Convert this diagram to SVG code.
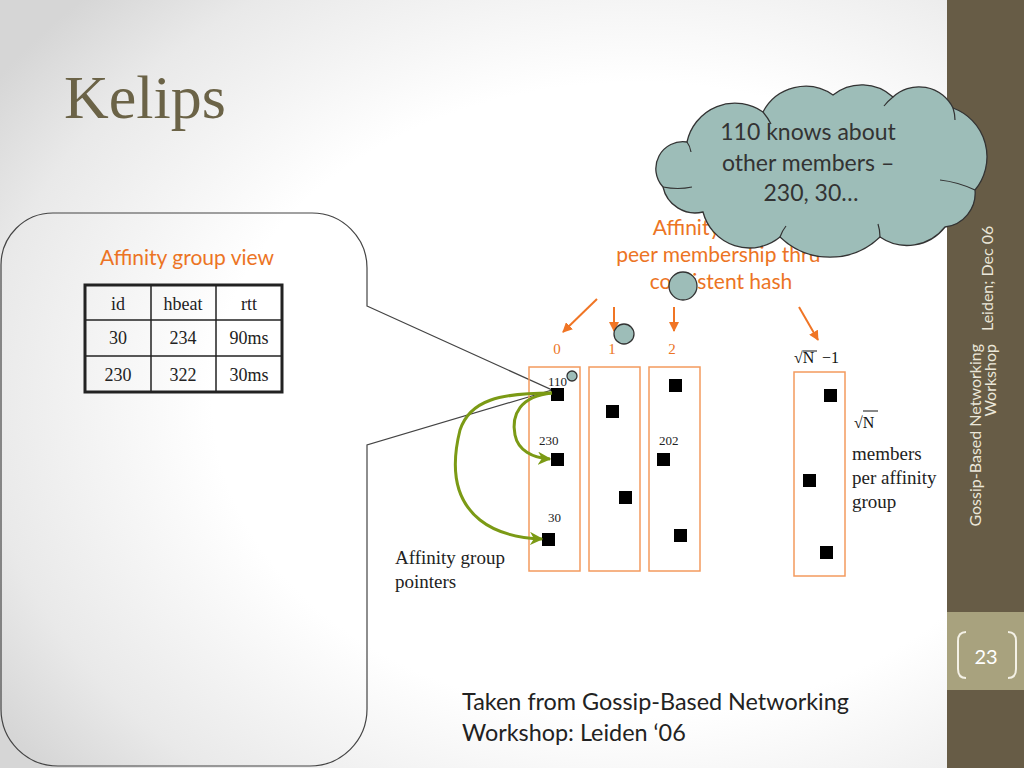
<svg xmlns="http://www.w3.org/2000/svg" width="1024" height="768" viewBox="0 0 1024 768">
<defs>
<radialGradient id="bg" cx="62%" cy="52%" r="75%">
<stop offset="0" stop-color="#ffffff"/>
<stop offset="0.55" stop-color="#ffffff"/>
<stop offset="0.85" stop-color="#e9e9e9"/>
<stop offset="1" stop-color="#d6d6d6"/>
</radialGradient>
<marker id="oarr" viewBox="0 0 10 10" refX="9" refY="5" markerWidth="5" markerHeight="5" orient="auto">
<path d="M0,0 L10,5 L0,10 z" fill="#f07525"/>
</marker>
<marker id="garr" viewBox="0 0 10 10" refX="9" refY="5" markerWidth="4.5" markerHeight="4.5" orient="auto">
<path d="M0,0 L10,5 L0,10 L3,5 z" fill="#7b9a15"/>
</marker>
</defs>
<style>
.sans{font-family:Lato,"Open Sans","Liberation Sans",sans-serif}
.serif{font-family:"Liberation Serif","DejaVu Serif",serif}
.orange{fill:#ec7424}
.col{fill:none;stroke:#f39a5e;stroke-width:1.5}
.sq{fill:#000}
.olink{stroke:#f07525;stroke-width:2;fill:none;marker-end:url(#oarr)}
.glink{stroke:#7b9a15;stroke-width:3;fill:none;marker-end:url(#garr)}
.tbl{fill:none;stroke:#222}
.cell{font-size:18px;fill:#222;text-anchor:middle}
.lbl{font-size:13px;fill:#222}
.bub{fill:#9dbdb8;stroke:#333;stroke-width:1.3}
.side{fill:#ebe7d9;font-size:16px}
</style>
<rect x="0" y="0" width="1024" height="768" fill="url(#bg)"/>

<g id="sidebar">
<rect x="947" y="0" width="77" height="768" fill="#675c46"/>
<rect x="947" y="612" width="77" height="78" fill="#a8a27e"/>
<text class="sans side" transform="translate(993,331) rotate(-90)">Leiden; Dec 06</text>
<text class="sans side" text-anchor="end" transform="translate(981,344) rotate(-90)">Gossip-Based Networking</text>
<text class="sans side" text-anchor="end" transform="translate(996,344) rotate(-90)">Workshop</text>
<path d="M966,632 Q958,632 958,641 L958,669 Q958,678 966,678" fill="none" stroke="#f4f1e6" stroke-width="2"/>
<path d="M1008,632 Q1016,632 1016,641 L1016,669 Q1016,678 1008,678" fill="none" stroke="#f4f1e6" stroke-width="2"/>
<text class="sans" x="986" y="664" font-size="20" fill="#ffffff" text-anchor="middle">23</text>
</g>

<text id="title" class="serif" x="64" y="118" font-size="62" fill="#6b6347">Kelips</text>

<g id="callout">
<path d="M367,306 L552,390 L367,445 L367,709 A57,57 0 0 1 310,766 L58,766 A57,57 0 0 1 1,709 L1,265 A52,52 0 0 1 53,213 L312,213 A55,55 0 0 1 367,268 Z" fill="none" stroke="#444" stroke-width="1.2"/>
<text class="sans orange" x="187" y="265" font-size="21" text-anchor="middle">Affinity group view</text>
</g>

<g id="table">
<rect class="tbl" x="85" y="285" width="197" height="107" stroke-width="3"/>
<line class="tbl" x1="85" y1="320" x2="282" y2="320" stroke-width="1.5"/>
<line class="tbl" x1="85" y1="356" x2="282" y2="356" stroke-width="1.5"/>
<line class="tbl" x1="151" y1="285" x2="151" y2="392" stroke-width="1.5"/>
<line class="tbl" x1="216" y1="285" x2="216" y2="392" stroke-width="1.5"/>
<text class="serif cell" x="118" y="310">id</text>
<text class="serif cell" x="183" y="310">hbeat</text>
<text class="serif cell" x="249" y="310">rtt</text>
<text class="serif cell" x="118" y="344">30</text>
<text class="serif cell" x="183" y="344">234</text>
<text class="serif cell" x="249" y="344">90ms</text>
<text class="serif cell" x="118" y="381">230</text>
<text class="serif cell" x="183" y="381">322</text>
<text class="serif cell" x="249" y="381">30ms</text>
</g>

<g id="hash-label">
<text class="sans orange" font-size="21" text-anchor="middle">
<tspan x="721" y="235">Affinity group:</tspan>
<tspan x="721" y="262">peer membership thru</tspan>
<tspan x="721" y="289">consistent hash</tspan>
</text>
</g>

<g id="group0">
<rect class="col" x="529" y="367" width="51" height="204"/>
<text class="serif orange" x="557" y="354" font-size="15" text-anchor="middle">0</text>
<rect class="sq" x="551" y="388" width="13" height="13"/>
<rect class="sq" x="551" y="453" width="13" height="13"/>
<rect class="sq" x="542" y="533" width="13" height="13"/>
<text class="serif lbl" x="548" y="386">110</text>
<text class="serif lbl" x="539" y="445">230</text>
<text class="serif lbl" x="548" y="522">30</text>
</g>
<g id="group1">
<rect class="col" x="589" y="367" width="51" height="204"/>
<text class="serif orange" x="612" y="354" font-size="15" text-anchor="middle">1</text>
<rect class="sq" x="606" y="405" width="13" height="13"/>
<rect class="sq" x="619" y="491" width="13" height="13"/>
</g>
<g id="group2">
<rect class="col" x="649" y="367" width="51" height="204"/>
<text class="serif orange" x="672" y="354" font-size="15" text-anchor="middle">2</text>
<rect class="sq" x="669" y="379" width="13" height="13"/>
<rect class="sq" x="657" y="453" width="13" height="13"/>
<rect class="sq" x="674" y="529" width="13" height="13"/>
<text class="serif lbl" x="659" y="445">202</text>
</g>
<g id="groupN">
<rect class="col" x="794" y="372" width="51" height="204"/>
<text class="serif" x="794" y="363" font-size="16" fill="#111">√N</text>
<line x1="803" y1="351" x2="817" y2="351" stroke="#111" stroke-width="1"/>
<text class="serif" x="822" y="363" font-size="16" fill="#111">−1</text>
<rect class="sq" x="824" y="389" width="13" height="13"/>
<rect class="sq" x="803" y="474" width="13" height="13"/>
<rect class="sq" x="820" y="546" width="13" height="13"/>
</g>

<g id="members-label">
<text class="serif" x="854" y="428" font-size="16" fill="#111">√N</text>
<line x1="863" y1="411" x2="878" y2="411" stroke="#111" stroke-width="1"/>
<text class="serif" font-size="19" fill="#222">
<tspan x="852" y="460">members</tspan>
<tspan x="852" y="484">per affinity</tspan>
<tspan x="852" y="508">group</tspan>
</text>
</g>

<g id="pointers-label">
<text class="serif" font-size="19" fill="#222">
<tspan x="395" y="564">Affinity group</tspan>
<tspan x="395" y="588">pointers</tspan>
</text>
</g>

<g id="connectors">
<line class="olink" x1="597" y1="299" x2="563" y2="332"/>
<line class="olink" x1="614" y1="307" x2="614" y2="331"/>
<line class="olink" x1="674" y1="307" x2="674" y2="331"/>
<line class="olink" x1="799" y1="307" x2="818" y2="340"/>
<path class="glink" d="M552,393 C520,396 511,415 515,435 C518,450 532,458 550,459"/>
<path class="glink" d="M552,393 C500,393 470,400 460,430 C450,470 455,500 480,520 C495,532 515,538 542,539"/>
</g>

<g id="dots">
<circle class="bub" cx="683" cy="286" r="14"/>
<circle class="bub" cx="624" cy="334" r="10"/>
<circle class="bub" cx="572" cy="376" r="5" stroke-width="1"/>
</g>

<g id="cloud">
<path class="bub" d="M663,187 A27,27 0 0 1 687,142 A49,49 0 0 1 763,112 A48,48 0 0 1 833,95 A46,46 0 0 1 893,97 A38,38 0 0 1 953,108 A52,52 0 0 1 975,190 A34,34 0 0 1 945,227 A48,48 0 0 1 880,237 A72,72 0 0 1 780,237 A48,48 0 0 1 703,212 A33,33 0 0 1 663,187 Z"/>
<path d="M687,142 Q690,146 691,152 M763,112 Q768,118 771,124 M893,97 Q888,101 884,106 M953,108 Q955,114 955,120 M975,190 Q958,182 940,180 M880,237 Q880,230 878,224 M780,237 Q782,231 786,226 M663,187 Q678,190 692,187" fill="none" stroke="#333" stroke-width="1.2"/>
<text class="sans" font-size="23" fill="#333" text-anchor="middle">
<tspan x="811" y="140">110 knows about</tspan>
<tspan x="811" y="171">other members –</tspan>
<tspan x="811" y="201">230, 30…</tspan>
</text>
</g>

<text id="credit" class="sans" font-size="23.4" fill="#222">
<tspan x="462" y="710">Taken from Gossip-Based Networking</tspan>
<tspan x="462" y="741">Workshop: Leiden ‘06</tspan>
</text>
</svg>
